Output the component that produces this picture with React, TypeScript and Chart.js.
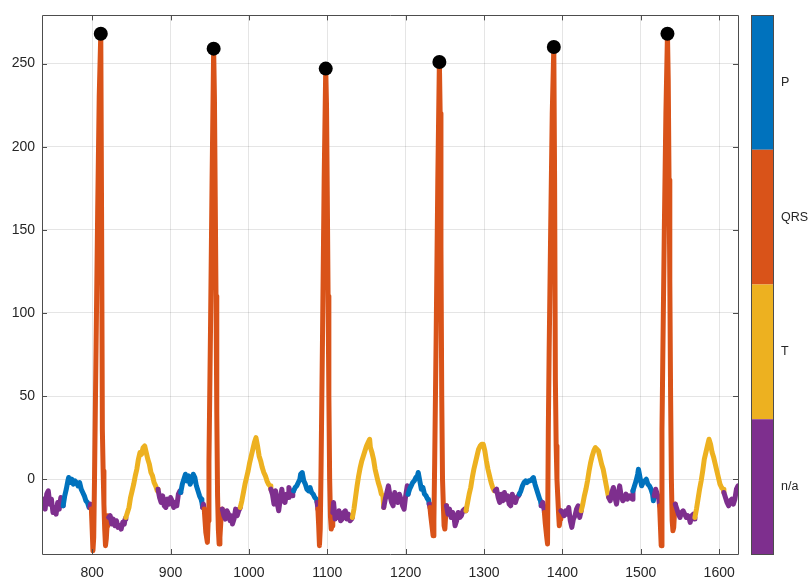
import { useEffect, useRef } from 'react';
import { Chart, registerables } from 'chart.js';

Chart.register(...registerables);

// ECG trace: [sample index, amplitude]
const ecgTrace: [number, number][] = [
  [736, -16], [738, -12], [740, -18], [742, -9], [744, -7], [746, -15], [748, -12], [750, -20], [752, -17], [754, -21], [756, -14], [758, -18], [760, -11], [762, -14],
  [763, -16], [765, -10], [767, -6], [769, -1], [770, 1], [772, -2], [774, 0], [776, -3], [778, -1], [780, -2], [782, -4], [784, -2], [786, -6], [788, -8], [790, -10], [792, -13], [794, -14], [796, -17],
  [797, -17], [798, -15],
  [799, -18], [800, -30], [801, -43], [802, -35], [803, 0], [805, 80], [807, 160], [809, 230], [811, 268], [812, 160], [813, 30], [814, 5], [815, -15], [816, -30], [817, -40], [818, -36], [819, -28], [820, -22],
  [821, -23], [823, -22], [825, -27], [827, -24], [829, -28], [831, -25], [833, -29], [835, -28], [837, -30], [839, -26], [841, -27], [842, -24],
  [843, -23], [845, -20], [847, -17], [849, -11], [851, -7], [853, -3], [855, 2], [857, 6], [859, 12], [861, 16], [863, 15], [865, 19], [867, 20], [869, 16], [871, 12], [873, 9], [875, 4], [877, 2], [879, -2], [881, -4], [883, -7],
  [884, -6], [886, -11], [888, -14], [890, -10], [892, -16], [894, -17], [896, -12], [898, -15], [900, -11], [902, -13], [904, -17], [906, -14], [908, -16], [910, -9], [912, -7],
  [913, -8], [915, -3], [917, 0], [919, 3], [921, -1], [923, 2], [925, -3], [927, -1], [929, 3], [931, 1], [933, -4], [935, -7], [937, -10], [939, -12], [940, -14],
  [941, -17], [942, -15],
  [943, -18], [944, -25], [945, -32], [947, -38], [948, -25], [949, 10], [951, 90], [953, 180], [955, 259], [956, 230], [957, 170], [958, 110], [959, 40], [960, -10], [961, -30], [962, -39], [963, -35], [964, -27], [965, -20],
  [966, -18], [968, -22], [970, -24], [972, -19], [974, -21], [976, -25], [978, -22], [979, -27], [981, -24], [983, -18], [985, -22], [987, -19], [988, -18],
  [989, -17], [991, -13], [993, -8], [995, -3], [997, 1], [999, 5], [1001, 10], [1003, 14], [1005, 18], [1007, 22], [1009, 25], [1011, 20], [1013, 14], [1015, 11], [1017, 7], [1019, 4], [1021, 2], [1023, -1], [1025, -3], [1027, -4],
  [1028, -6], [1030, -9], [1032, -15], [1034, -7], [1036, -14], [1038, -19], [1040, -12], [1042, -6], [1044, -13], [1046, -14], [1048, -9], [1050, -11], [1051, -5], [1053, -8], [1055, -10], [1056, -8],
  [1057, -7], [1059, -5], [1061, -4], [1063, -2], [1065, 0], [1066, 3], [1068, 4], [1070, -1], [1072, -3], [1074, -6], [1076, -7], [1078, -5], [1080, -8], [1082, -9], [1084, -11], [1086, -12],
  [1087, -14],
  [1088, -18], [1089, -28], [1090, -40], [1091, -30], [1092, 5], [1094, 90], [1096, 180], [1098, 247], [1099, 225], [1100, 170], [1101, 110], [1102, 50], [1103, 0], [1104, -22], [1105, -30], [1106, -28],
  [1107, -20], [1108, -14], [1110, -24], [1112, -20], [1114, -23], [1115, -19], [1117, -25], [1119, -24], [1121, -20], [1123, -19], [1125, -24], [1127, -21], [1129, -25], [1131, -24],
  [1132, -23], [1134, -18], [1136, -11], [1138, -4], [1140, 2], [1142, 7], [1144, 11], [1146, 14], [1148, 17], [1150, 20], [1152, 22], [1154, 24], [1155, 19], [1157, 16], [1159, 12], [1161, 6], [1163, 2], [1165, -2], [1167, -5], [1169, -9], [1171, -10],
  [1172, -17], [1174, -12], [1176, -8], [1178, -4], [1180, -10], [1182, -14], [1184, -16], [1186, -8], [1188, -12], [1190, -14], [1192, -9], [1194, -12], [1196, -16], [1198, -18], [1200, -10], [1202, -4],
  [1203, -9], [1205, -6], [1207, -4], [1209, -2], [1211, -1], [1213, 1], [1215, 2], [1216, 4], [1218, -1], [1220, -6], [1222, -5], [1224, -9], [1226, -10], [1228, -12], [1229, -12],
  [1230, -15],
  [1231, -17], [1232, -22], [1234, -30], [1235, -34], [1236, -25], [1237, 10], [1239, 90], [1241, 180], [1243, 251], [1244, 220], [1245, 140], [1246, 50], [1247, 0], [1248, -15], [1249, -28], [1250, -30], [1251, -22],
  [1252, -16], [1254, -21], [1256, -18], [1258, -23], [1260, -20], [1262, -24], [1263, -28], [1265, -25], [1267, -20], [1269, -23], [1271, -22], [1273, -19], [1275, -18],
  [1277, -19], [1279, -14], [1281, -9], [1283, -5], [1285, 1], [1287, 6], [1289, 10], [1291, 14], [1293, 18], [1295, 20], [1297, 21], [1299, 21], [1301, 17], [1303, 11], [1305, 6], [1307, 2], [1309, -2], [1311, -5], [1313, -7],
  [1314, -7], [1316, -6], [1318, -11], [1320, -14], [1322, -9], [1324, -13], [1326, -8], [1328, -12], [1330, -10], [1332, -15], [1334, -16], [1336, -9], [1338, -12], [1340, -14], [1342, -11], [1344, -10],
  [1345, -9], [1347, -7], [1349, -4], [1351, -2], [1353, -1], [1355, -2], [1357, -1], [1359, -1], [1361, 0], [1363, 1], [1365, -3], [1367, -6], [1369, -9], [1371, -12], [1372, -13],
  [1373, -16], [1375, -14], [1376, -16],
  [1377, -20], [1378, -26], [1380, -35], [1381, -39], [1382, 30], [1383, 75], [1385, 150], [1387, 220], [1389, 260], [1390, 180], [1391, 60], [1392, 20], [1393, 0], [1394, -10], [1395, -20], [1396, -28], [1397, -24],
  [1398, -19], [1400, -20], [1402, -22], [1404, -19], [1406, -21], [1408, -17], [1410, -25], [1412, -29], [1414, -24], [1416, -22], [1418, -18], [1420, -16], [1422, -23],
  [1424, -19], [1426, -15], [1428, -10], [1430, -6], [1432, -1], [1434, 5], [1436, 10], [1438, 14], [1440, 17], [1442, 19], [1444, 18], [1446, 17], [1448, 13], [1450, 9], [1452, 6], [1454, 1], [1456, -4], [1458, -9],
  [1459, -11], [1461, -13], [1463, -8], [1465, -5], [1467, -11], [1469, -15], [1471, -9], [1473, -4], [1475, -10], [1477, -13], [1479, -12], [1481, -9], [1483, -12], [1485, -10], [1487, -11], [1489, -12],
  [1490, -7], [1492, -4], [1494, -1], [1496, 3], [1497, 6], [1499, 1], [1501, -4], [1503, -2], [1505, -1], [1507, 0], [1509, -3], [1511, -4], [1513, -6], [1515, -9], [1516, -13],
  [1517, -10], [1519, -6], [1521, -9], [1523, -12],
  [1524, -16], [1525, -28], [1526, -40], [1527, 30], [1528, 70], [1530, 150], [1532, 220], [1534, 268], [1535, 240], [1536, 180], [1537, 120], [1538, 50], [1539, 0], [1540, -25], [1541, -31], [1542, -29], [1543, -20],
  [1544, -15], [1546, -18], [1548, -21], [1550, -23], [1552, -20], [1554, -19], [1556, -21], [1558, -23], [1560, -22], [1562, -24], [1563, -26], [1565, -22], [1567, -21], [1568, -24],
  [1569, -23], [1571, -18], [1573, -12], [1575, -6], [1577, -1], [1579, 5], [1581, 12], [1583, 16], [1585, 20], [1587, 24], [1589, 21], [1591, 16], [1593, 13], [1595, 9], [1597, 5], [1599, 1], [1601, -3], [1603, -5], [1605, -6],
  [1606, -8], [1608, -11], [1610, -14], [1612, -16], [1614, -13], [1616, -12], [1618, -15], [1620, -12], [1622, -6], [1624, -4],
];

// Wave annotation: onset sample of each region and its type
const waveOnsetX = [736, 763, 797, 799, 821, 843, 884, 913, 941, 943, 966, 989, 1028, 1057, 1087, 1088, 1107, 1132, 1172, 1203, 1230, 1231, 1252, 1277, 1314, 1345, 1373, 1377, 1398, 1424, 1459, 1490, 1517, 1524, 1544, 1569, 1606];
const waveType = ['n/a', 'P', 'n/a', 'QRS', 'n/a', 'T', 'n/a', 'P', 'n/a', 'QRS', 'n/a', 'T', 'n/a', 'P', 'n/a', 'QRS', 'n/a', 'T', 'n/a', 'P', 'n/a', 'QRS', 'n/a', 'T', 'n/a', 'P', 'n/a', 'QRS', 'n/a', 'T', 'n/a', 'P', 'n/a', 'QRS', 'n/a', 'T', 'n/a'];

// Colorbar categories, top to bottom
const classNames = ['P', 'QRS', 'T', 'n/a'];
const classColors = ['#0072BD', '#D95319', '#EDB120', '#7E2F8E'];

// R peaks
const rPeakX = [811, 955, 1098, 1243, 1389, 1534];
const rPeakY = [268, 259, 247, 251, 260, 268];

const xTicks = [800, 900, 1000, 1100, 1200, 1300, 1400, 1500, 1600];
const yTicks = [0, 50, 100, 150, 200, 250];
const xRange = [736, 1624];
const yRange = [-45, 279];

const AXIS_COLOR = '#4d4d4d';
const TEXT_COLOR = '#262626';
const FONT = '"Liberation Sans", Arial, Helvetica, sans-serif';

function typeAt(x: number): string {
  let t = waveType[0];
  for (let i = 0; i < waveOnsetX.length; i++) {
    if (x >= waveOnsetX[i]) t = waveType[i];
  }
  return t;
}

const boxPlugin = {
  id: 'matlabBox',
  afterDraw(chart: any) {
    const { ctx, chartArea } = chart;
    const { left, right, top, bottom } = chartArea;
    const xs = chart.scales.x;
    const ys = chart.scales.y;
    ctx.save();
    ctx.strokeStyle = AXIS_COLOR;
    ctx.lineWidth = 1;
    ctx.beginPath();
    ctx.rect(Math.round(left) + 0.5, Math.round(top) + 0.5, Math.round(right - left), Math.round(bottom - top));
    ctx.stroke();
    const tl = 5;
    ctx.beginPath();
    xTicks.forEach((v) => {
      const px = Math.round(xs.getPixelForValue(v)) + 0.5;
      ctx.moveTo(px, bottom);
      ctx.lineTo(px, bottom - tl);
      ctx.moveTo(px, top);
      ctx.lineTo(px, top + tl);
    });
    yTicks.forEach((v) => {
      const py = Math.round(ys.getPixelForValue(v)) + 0.5;
      ctx.moveTo(left, py);
      ctx.lineTo(left + tl, py);
      ctx.moveTo(right, py);
      ctx.lineTo(right - tl, py);
    });
    ctx.stroke();

    // colorbar
    const cbLeft = 751;
    const cbRight = 773;
    const cbTop = Math.round(top);
    const cbBottom = Math.round(bottom);
    const h = (cbBottom - cbTop) / classNames.length;
    classNames.forEach((name, i) => {
      ctx.fillStyle = classColors[i];
      ctx.fillRect(cbLeft, cbTop + i * h, cbRight - cbLeft, h);
    });
    ctx.strokeStyle = AXIS_COLOR;
    ctx.strokeRect(cbLeft + 0.5, cbTop + 0.5, cbRight - cbLeft, cbBottom - cbTop);
    ctx.fillStyle = TEXT_COLOR;
    ctx.font = `12.5px ${FONT}`;
    ctx.textAlign = 'left';
    ctx.textBaseline = 'middle';
    classNames.forEach((name, i) => {
      ctx.fillText(name, cbRight + 8, cbTop + (i + 0.5) * h);
    });
    ctx.restore();
  },
};

export default function App() {
  const ref = useRef<HTMLCanvasElement>(null);
  useEffect(() => {
    const colorOf = (t: string) => classColors[classNames.indexOf(t)];
    const chart = new Chart(ref.current as HTMLCanvasElement, {
      type: 'line',
      data: {
        datasets: [
          {
            type: 'scatter',
            data: rPeakX.map((x, i) => ({ x, y: rPeakY[i] })),
            pointRadius: 7,
            pointHoverRadius: 7,
            pointBackgroundColor: '#000',
            pointBorderWidth: 0,
            showLine: false,
          } as any,
          {
            data: ecgTrace.map(([x, y]) => ({ x, y })),
            borderWidth: 5,
            pointRadius: 0,
            borderCapStyle: 'round',
            borderJoinStyle: 'round',
            borderColor: colorOf('n/a'),
            segment: {
              borderColor: (c: any) => colorOf(typeAt(c.p0.parsed.x)),
            },
          } as any,
        ],
      },
      options: {
        animation: false,
        responsive: false,
        devicePixelRatio: 1,
        layout: { padding: { top: 14, right: 73, left: 0, bottom: 0 } },
        plugins: { legend: { display: false }, tooltip: { enabled: false } },
        events: [],
        scales: {
          x: {
            type: 'linear',
            min: xRange[0],
            max: xRange[1],
            afterFit: (s: any) => { s.height = 24; },
            afterBuildTicks: (s: any) => { s.ticks = xTicks.map((v) => ({ value: v })); },
            border: { display: false },
            grid: { color: 'rgba(38,38,38,0.12)', drawTicks: false },
            ticks: {
              padding: 11,
              color: TEXT_COLOR,
              font: { family: FONT, size: 14 },
              maxRotation: 0,
              callback: (v: any) => String(v),
            },
          },
          y: {
            type: 'linear',
            min: yRange[0],
            max: yRange[1],
            afterFit: (s: any) => { s.width = 42; },
            afterBuildTicks: (s: any) => { s.ticks = yTicks.map((v) => ({ value: v })); },
            border: { display: false },
            grid: { color: 'rgba(38,38,38,0.12)', drawTicks: false },
            ticks: {
              padding: 7,
              color: TEXT_COLOR,
              font: { family: FONT, size: 14 },
              callback: (v: any) => String(v),
            },
          },
        },
      },
      plugins: [boxPlugin],
    });
    return () => chart.destroy();
  }, []);
  return (
    <div style={{ position: 'absolute', left: 0, top: 0, width: 811, height: 578, background: '#fff' }}>
      <canvas ref={ref} width={811} height={578} style={{ width: 811, height: 578, display: 'block' }} />
    </div>
  );
}
